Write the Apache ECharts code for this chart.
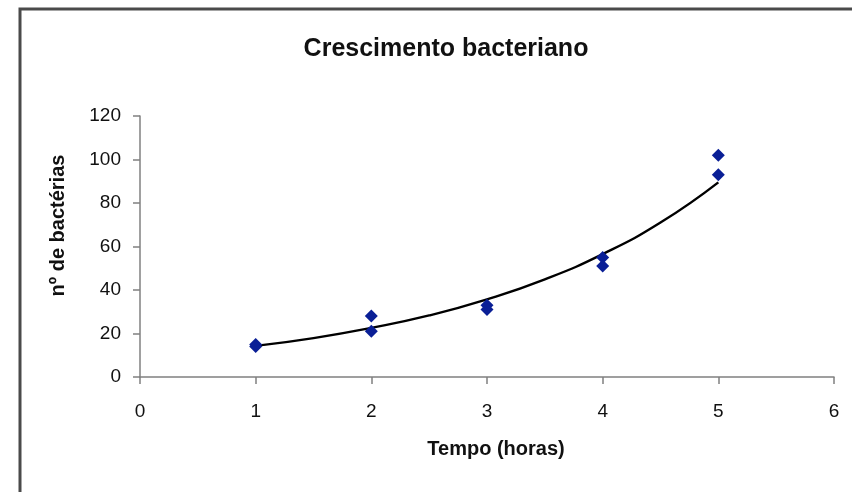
<!DOCTYPE html>
<html>
<head>
<meta charset="utf-8">
<script src="https://cdn.jsdelivr.net/npm/echarts@6/dist/echarts.min.js"></script>
<style>
html,body{margin:0;padding:0;background:#fff;}
#c{width:852px;height:492px;}
</style>
</head>
<body>
<div id="c"></div>
<script>
var titleText = 'Crescimento bacteriano';
var xName = 'Tempo (horas)';
var yName = 'nº de bactérias';
var xTicks = [0, 1, 2, 3, 4, 5, 6];
var yTicks = [0, 20, 40, 60, 80, 100, 120];
// observed counts
var timeHours = [1, 1, 2, 2, 3, 3, 4, 4, 5, 5];
var bacteria  = [15, 14, 28, 21, 33, 31, 55, 51, 102, 93];
// exponential trendline
var trendX = [1, 1.5, 2, 2.5, 3, 3.5, 4, 4.5, 5];
var trendY = [14.3, 17.9, 22.6, 28.3, 35.7, 44.9, 56.5, 71.0, 89.5];

var font = '"Liberation Sans", Arial, Helvetica, sans-serif';
var chart = echarts.init(document.getElementById('c'), null, {renderer: 'canvas'});
chart.setOption({
  animation: false,
  backgroundColor: '#ffffff',
  title: {
    text: titleText,
    left: 441,
    top: 32,
    textAlign: 'center',
    textStyle: {fontFamily: font, fontSize: 25, fontWeight: 'bold', color: '#111'}
  },
  graphic: [{
    type: 'rect',
    shape: {x: 20, y: 9, width: 860, height: 500},
    style: {fill: 'none', stroke: '#4a4a4a', lineWidth: 3},
    silent: true, z: -1
  }],
  grid: {left: 140, right: 18, top: 116, bottom: 115},
  xAxis: {
    type: 'value',
    min: xTicks[0], max: xTicks[xTicks.length - 1], interval: 1,
    name: xName, nameLocation: 'middle', nameGap: 62,
    nameTextStyle: {fontFamily: font, fontSize: 20, fontWeight: 'bold', color: '#111', padding: [0, 0, 0, 18]},
    axisLine: {show: true, lineStyle: {color: '#808080', width: 1.5}},
    axisTick: {show: true, inside: false, length: 7, lineStyle: {color: '#808080', width: 1.5}},
    axisLabel: {fontFamily: font, fontSize: 19, color: '#111', margin: 25},
    splitLine: {show: false}
  },
  yAxis: {
    type: 'value',
    min: yTicks[0], max: yTicks[yTicks.length - 1], interval: 20,
    name: yName, nameLocation: 'middle', nameGap: 72,
    nameTextStyle: {fontFamily: font, fontSize: 20, fontWeight: 'bold', color: '#111', padding: [0, 0, 0, 42]},
    axisLine: {show: true, lineStyle: {color: '#808080', width: 1.5}},
    axisTick: {show: true, inside: false, length: 7, lineStyle: {color: '#808080', width: 1.5}},
    axisLabel: {fontFamily: font, fontSize: 19, color: '#111', margin: 19},
    splitLine: {show: false}
  },
  series: [{
    type: 'line',
    data: trendX.map(function (x, i) { return [x, trendY[i]]; }),
    smooth: true,
    showSymbol: false,
    lineStyle: {color: '#000', width: 2.4},
    z: 2
  }, {
    type: 'scatter',
    data: timeHours.map(function (x, i) { return [x, bacteria[i]]; }),
    symbol: 'diamond',
    symbolSize: 13,
    itemStyle: {color: '#0a1f96', opacity: 1},
    z: 3
  }]
});
</script>
</body>
</html>
